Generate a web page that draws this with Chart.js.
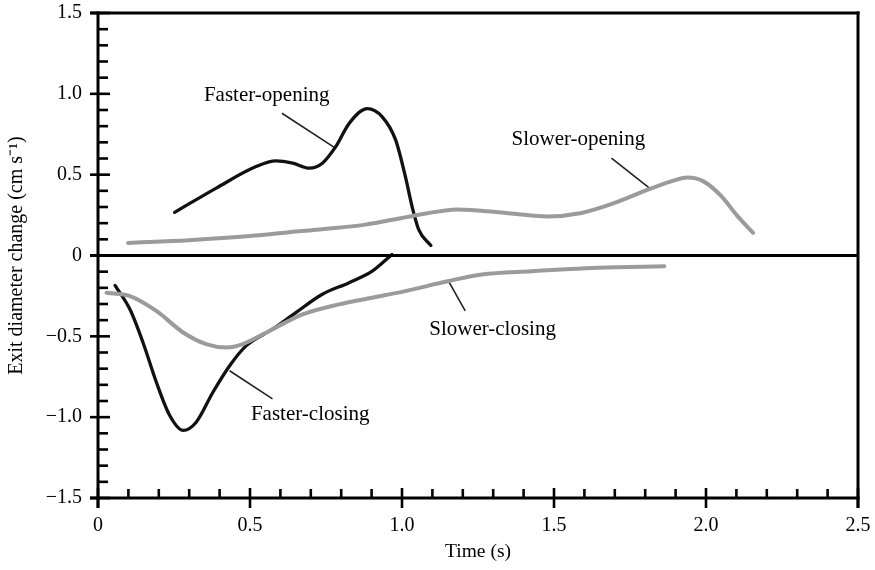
<!DOCTYPE html>
<html>
<head>
<meta charset="utf-8">
<script src="https://cdn.jsdelivr.net/npm/chart.js@4/dist/chart.umd.min.js"></script>
<style>
html,body{margin:0;padding:0;background:#fff;}
#wrap{width:875px;height:570px;position:relative;}
</style>
</head>
<body>
<div id="wrap"><canvas id="c" width="875" height="570"></canvas></div>
<script>
// ---- tick labels ----
const xTickLabels = ['0', '0.5', '1.0', '1.5', '2.0', '2.5'];
const yTickLabels = ['\u22121.5', '\u22121.0', '\u22120.5', '0', '0.5', '1.0', '1.5'];
const xTitle = 'Time (s)';
const yTitle = 'Exit diameter change (cm s\u207B\u00B9)';

// ---- series (time in s, value in cm s^-1) ----
const fasterOpeningT = [0.252, 0.389, 0.520, 0.585, 0.640, 0.695, 0.738, 0.782, 0.826, 0.886, 0.935, 0.979, 1.011, 1.033, 1.055, 1.095];
const fasterOpeningV = [0.267, 0.417, 0.550, 0.585, 0.571, 0.540, 0.571, 0.673, 0.817, 0.909, 0.858, 0.715, 0.489, 0.304, 0.160, 0.062];

const slowerOpeningT = [0.099, 0.30, 0.50, 0.662, 0.771, 0.880, 1.022, 1.186, 1.317, 1.481, 1.590, 1.699, 1.809, 1.880, 1.940, 1.990, 2.049, 2.103, 2.155];
const slowerOpeningV = [0.078, 0.095, 0.120, 0.150, 0.168, 0.191, 0.240, 0.285, 0.268, 0.242, 0.263, 0.325, 0.407, 0.455, 0.482, 0.460, 0.370, 0.245, 0.140];

const fasterClosingT = [0.056, 0.105, 0.148, 0.192, 0.236, 0.280, 0.323, 0.378, 0.433, 0.487, 0.574, 0.651, 0.738, 0.826, 0.902, 0.967];
const fasterClosingV = [-0.185, -0.333, -0.538, -0.784, -0.990, -1.082, -1.031, -0.846, -0.682, -0.559, -0.456, -0.353, -0.240, -0.168, -0.097, 0.006];

const slowerClosingT = [0.028, 0.105, 0.192, 0.280, 0.356, 0.422, 0.476, 0.574, 0.673, 0.793, 0.902, 1.000, 1.153, 1.262, 1.426, 1.645, 1.863];
const slowerClosingV = [-0.230, -0.251, -0.343, -0.476, -0.548, -0.569, -0.548, -0.456, -0.364, -0.302, -0.261, -0.225, -0.158, -0.117, -0.097, -0.076, -0.066];

// ---- curve labels and leader lines (data coordinates) ----
const labelTexts = ['Faster-opening', 'Slower-opening', 'Faster-closing', 'Slower-closing'];
const labelT = [0.555, 1.580, 0.698, 1.298];
const labelV = [0.990, 0.715, -0.984, -0.456];
const leaderT0 = [0.605, 1.689, 0.433, 1.153];
const leaderV0 = [0.880, 0.602, -0.713, -0.158];
const leaderT1 = [0.776, 1.814, 0.574, 1.208];
const leaderV1 = [0.670, 0.417, -0.887, -0.343];

const pts = (t, v) => t.map((x, i) => ({x: x, y: v[i]}));
const BLACK = '#111111';
const GREY = '#9b9b9b';
const FONT = "'Liberation Serif', 'Times New Roman', serif";

const curve = (t, v, color, w) => ({
  data: pts(t, v), borderColor: color, borderWidth: w, pointRadius: 0,
  fill: false, cubicInterpolationMode: 'monotone', borderCapStyle: 'round', borderJoinStyle: 'round'
});

const datasets = [
  curve(slowerOpeningT, slowerOpeningV, GREY, 4),
  curve(slowerClosingT, slowerClosingV, GREY, 4),
  curve(fasterOpeningT, fasterOpeningV, BLACK, 3.3),
  curve(fasterClosingT, fasterClosingV, BLACK, 3.3)
];
labelTexts.forEach((_, i) => {
  datasets.push({
    data: [{x: leaderT0[i], y: leaderV0[i]}, {x: leaderT1[i], y: leaderV1[i]}],
    borderColor: '#222', borderWidth: 1.6, pointRadius: 0, tension: 0
  });
});

const frame = {
  id: 'frame',
  afterDatasetsDraw(chart) {
    const {ctx, scales: {x, y}} = chart;
    const ln = (a, b, c, d) => { ctx.beginPath(); ctx.moveTo(a, b); ctx.lineTo(c, d); ctx.stroke(); };
    ctx.save();
    ctx.strokeStyle = '#000';
    ctx.lineWidth = 3;
    const xl = x.getPixelForValue(x.min), xr = x.getPixelForValue(x.max);
    const yb = y.getPixelForValue(y.min), yt = y.getPixelForValue(y.max), yz = y.getPixelForValue(0);
    ln(xl, yt - 1.5, xl, yb + 10);
    ln(xl - 8, yb, xr + 1.5, yb);
    ln(xl - 8, yt, xr + 1.5, yt);
    ln(xr, yt - 1.5, xr, yb + 10);
    ln(xl - 8, yz, xr, yz);
    ctx.lineWidth = 2.6;
    for (let k = 0; k <= Math.round((y.max - y.min) * 10); k++) {
      const p = y.getPixelForValue(y.min + k / 10);
      if (k % 5 === 0) ln(xl - 8, p, xl + 12, p); else ln(xl, p, xl + 10, p);
    }
    for (let k = 0; k <= Math.round((x.max - x.min) * 10); k++) {
      const p = x.getPixelForValue(x.min + k / 10);
      if (k % 5 === 0) ln(p, yb - 10, p, yb + 10); else ln(p, yb - 9, p, yb);
    }
    ctx.fillStyle = '#000';
    ctx.font = '21px ' + FONT;
    ctx.textAlign = 'center';
    ctx.textBaseline = 'middle';
    labelTexts.forEach((s, i) => {
      ctx.fillText(s, x.getPixelForValue(labelT[i]), y.getPixelForValue(labelV[i]));
    });
    ctx.restore();
  }
};

new Chart(document.getElementById('c'), {
  type: 'line',
  data: {datasets: datasets},
  options: {
    responsive: false,
    animation: false,
    events: [],
    layout: {padding: {top: 13, right: 17, left: 0, bottom: 0}},
    plugins: {legend: {display: false}, tooltip: {enabled: false}},
    scales: {
      x: {
        type: 'linear', min: 0, max: 2.5,
        afterFit: (s) => { s.height = 72; s.paddingLeft = 0; s.paddingRight = 0; },
        grid: {display: false, drawTicks: false},
        border: {display: false},
        ticks: {
          stepSize: 0.5, padding: 16, color: '#000', maxRotation: 0,
          font: {family: FONT, size: 20},
          callback: (v, i) => xTickLabels[i]
        },
        title: {display: true, text: xTitle, color: '#000', font: {family: FONT, size: 19.5}, padding: {top: 0, bottom: 6}}
      },
      y: {
        type: 'linear', min: -1.5, max: 1.5,
        afterFit: (s) => { s.width = 98; s.paddingTop = 0; s.paddingBottom = 0; },
        grid: {display: false, drawTicks: false},
        border: {display: false},
        ticks: {
          stepSize: 0.5, padding: 16, color: '#000',
          font: {family: FONT, size: 20},
          callback: (v, i) => yTickLabels[i]
        },
        title: {display: true, text: yTitle, color: '#000', font: {family: FONT, size: 20}, padding: {top: 5, bottom: 0}}
      }
    }
  },
  plugins: [frame]
});
</script>
</body>
</html>
